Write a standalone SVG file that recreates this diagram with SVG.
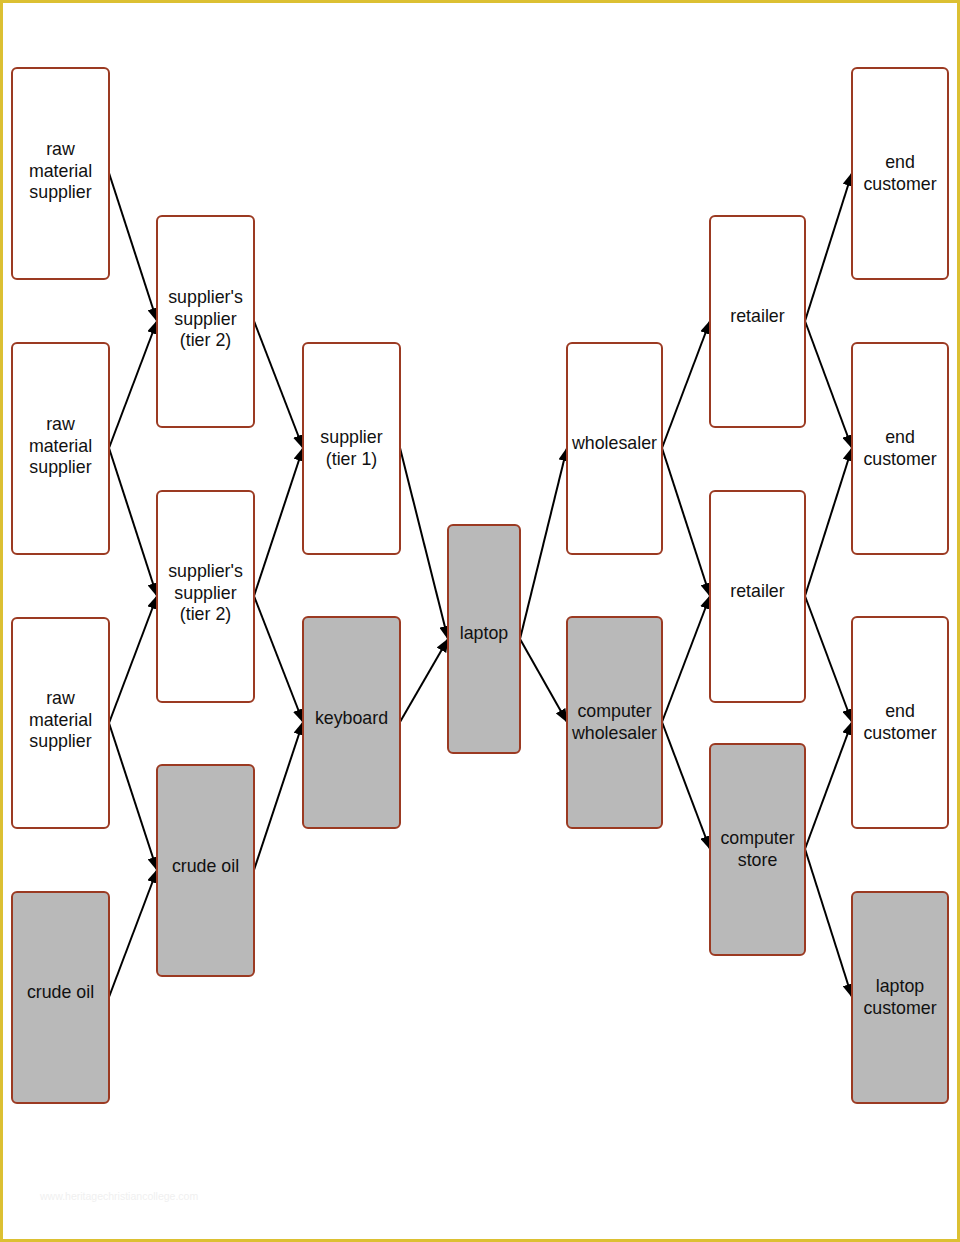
<svg xmlns="http://www.w3.org/2000/svg" width="960" height="1242" viewBox="0 0 960 1242">
<style>
.n{fill:#fff;stroke:#9b3a22;stroke-width:2}
.g{fill:#b9b9b9;stroke:#9b3a22;stroke-width:2}
.t{font-family:"Liberation Sans",Arial,sans-serif;font-size:17.8px;fill:#111;text-anchor:middle}
.e{stroke:#000;stroke-width:2;fill:none;marker-end:url(#a)}
</style>
<defs>
<marker id="a" viewBox="0 0 14 11" refX="13" refY="5.5" markerWidth="14" markerHeight="11" markerUnits="userSpaceOnUse" orient="auto">
<path d="M0,0 L14,5.5 L0,11 Z" fill="#000"/>
</marker>
</defs>
<rect x="1.5" y="1.5" width="957" height="1239" fill="#fff" stroke="#dcc032" stroke-width="3"/>
<text x="40" y="1200" font-family="Liberation Sans,Arial,sans-serif" font-size="10.5" fill="#f0f0f0">www.heritagechristiancollege.com</text>
<g id="connectors">
<line class="e" x1="109" y1="173" x2="157" y2="321"/>
<line class="e" x1="109" y1="448" x2="157" y2="321"/>
<line class="e" x1="109" y1="448" x2="157" y2="596"/>
<line class="e" x1="109" y1="723" x2="157" y2="596"/>
<line class="e" x1="109" y1="723" x2="157" y2="870"/>
<line class="e" x1="109" y1="997" x2="157" y2="870"/>
<line class="e" x1="254" y1="321" x2="303" y2="448"/>
<line class="e" x1="254" y1="596" x2="303" y2="448"/>
<line class="e" x1="254" y1="596" x2="303" y2="722"/>
<line class="e" x1="254" y1="870" x2="303" y2="722"/>
<line class="e" x1="400" y1="448" x2="448" y2="639"/>
<line class="e" x1="400" y1="722" x2="448" y2="639"/>
<line class="e" x1="520" y1="639" x2="567" y2="448"/>
<line class="e" x1="520" y1="639" x2="567" y2="722"/>
<line class="e" x1="662" y1="448" x2="710" y2="321"/>
<line class="e" x1="662" y1="448" x2="710" y2="596"/>
<line class="e" x1="662" y1="722" x2="710" y2="596"/>
<line class="e" x1="662" y1="722" x2="710" y2="849"/>
<line class="e" x1="805" y1="321" x2="852" y2="173"/>
<line class="e" x1="805" y1="321" x2="852" y2="448"/>
<line class="e" x1="805" y1="596" x2="852" y2="448"/>
<line class="e" x1="805" y1="596" x2="852" y2="722"/>
<line class="e" x1="805" y1="849" x2="852" y2="722"/>
<line class="e" x1="805" y1="849" x2="852" y2="997"/>
</g>
<g id="rms1"><rect class="n" x="12" y="68" width="97" height="211" rx="5"/><text class="t" x="60.5" y="155">raw</text><text class="t" x="60.5" y="176.5">material</text><text class="t" x="60.5" y="198">supplier</text></g>
<g id="rms2"><rect class="n" x="12" y="343" width="97" height="211" rx="5"/><text class="t" x="60.5" y="430">raw</text><text class="t" x="60.5" y="451.5">material</text><text class="t" x="60.5" y="473">supplier</text></g>
<g id="rms3"><rect class="n" x="12" y="618" width="97" height="210" rx="5"/><text class="t" x="60.5" y="704">raw</text><text class="t" x="60.5" y="725.5">material</text><text class="t" x="60.5" y="747">supplier</text></g>
<g id="crude1"><rect class="g" x="12" y="892" width="97" height="211" rx="5"/><text class="t" x="60.5" y="998">crude oil</text></g>
<g id="ss1"><rect class="n" x="157" y="216" width="97" height="211" rx="5"/><text class="t" x="205.5" y="303">supplier's</text><text class="t" x="205.5" y="324.5">supplier</text><text class="t" x="205.5" y="346">(tier 2)</text></g>
<g id="ss2"><rect class="n" x="157" y="491" width="97" height="211" rx="5"/><text class="t" x="205.5" y="577">supplier's</text><text class="t" x="205.5" y="598.5">supplier</text><text class="t" x="205.5" y="620">(tier 2)</text></g>
<g id="crude2"><rect class="g" x="157" y="765" width="97" height="211" rx="5"/><text class="t" x="205.5" y="872">crude oil</text></g>
<g id="s1"><rect class="n" x="303" y="343" width="97" height="211" rx="5"/><text class="t" x="351.5" y="443">supplier</text><text class="t" x="351.5" y="464.5">(tier 1)</text></g>
<g id="keyboard"><rect class="g" x="303" y="617" width="97" height="211" rx="5"/><text class="t" x="351.5" y="724">keyboard</text></g>
<g id="laptop"><rect class="g" x="448" y="525" width="72" height="228" rx="5"/><text class="t" x="484" y="639">laptop</text></g>
<g id="wholesaler"><rect class="n" x="567" y="343" width="95" height="211" rx="5"/><text class="t" x="614.5" y="449">wholesaler</text></g>
<g id="cwholesaler"><rect class="g" x="567" y="617" width="95" height="211" rx="5"/><text class="t" x="614.5" y="717">computer</text><text class="t" x="614.5" y="738.5">wholesaler</text></g>
<g id="retailer1"><rect class="n" x="710" y="216" width="95" height="211" rx="5"/><text class="t" x="757.5" y="322">retailer</text></g>
<g id="retailer2"><rect class="n" x="710" y="491" width="95" height="211" rx="5"/><text class="t" x="757.5" y="597">retailer</text></g>
<g id="cstore"><rect class="g" x="710" y="744" width="95" height="211" rx="5"/><text class="t" x="757.5" y="844">computer</text><text class="t" x="757.5" y="865.5">store</text></g>
<g id="end1"><rect class="n" x="852" y="68" width="96" height="211" rx="5"/><text class="t" x="900" y="168">end</text><text class="t" x="900" y="189.5">customer</text></g>
<g id="end2"><rect class="n" x="852" y="343" width="96" height="211" rx="5"/><text class="t" x="900" y="443">end</text><text class="t" x="900" y="464.5">customer</text></g>
<g id="end3"><rect class="n" x="852" y="617" width="96" height="211" rx="5"/><text class="t" x="900" y="717">end</text><text class="t" x="900" y="738.5">customer</text></g>
<g id="lcustomer"><rect class="g" x="852" y="892" width="96" height="211" rx="5"/><text class="t" x="900" y="992">laptop</text><text class="t" x="900" y="1013.5">customer</text></g>
</svg>
